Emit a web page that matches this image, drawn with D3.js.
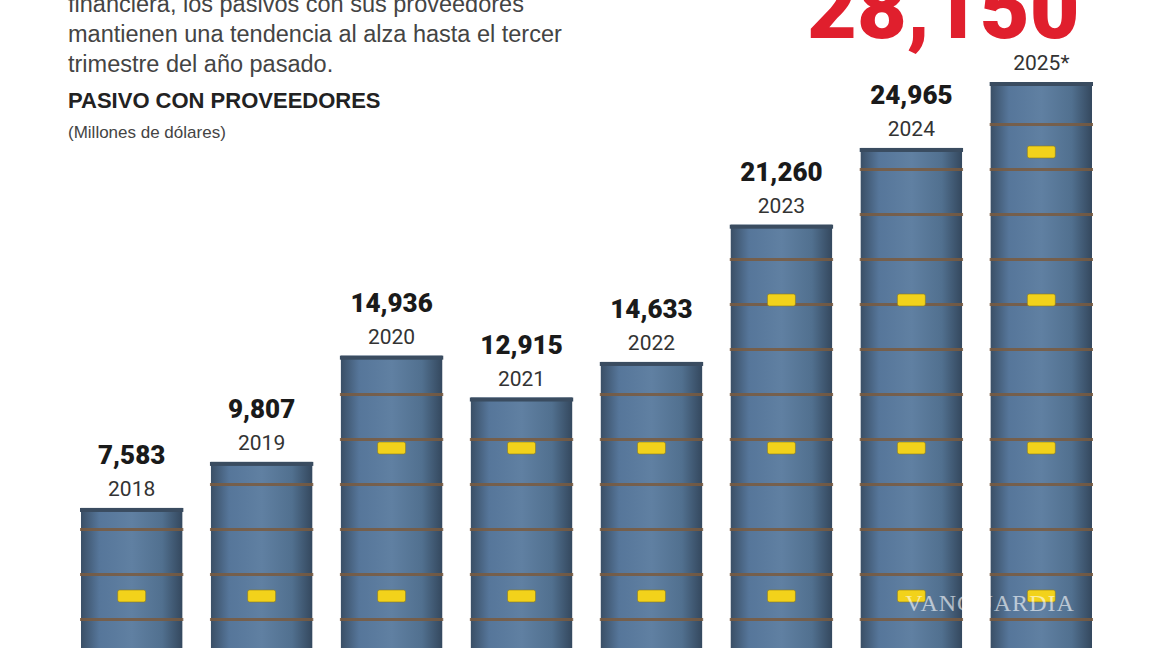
<!DOCTYPE html>
<html><head><meta charset="utf-8">
<script src="https://cdn.jsdelivr.net/npm/d3@7.9.0/dist/d3.min.js"></script>
<style>body{margin:0;background:#fff;overflow:hidden}</style>
</head><body><svg id="c" width="1152" height="648"></svg>
<script>
const years = ['2018', '2019', '2020', '2021', '2022', '2023', '2024', '2025*'];
const values = [7583, 9807, 14936, 12915, 14633, 21260, 24965, 28150];
const introLines = ['financiera, los pasivos con sus proveedores', 'mantienen una tendencia al alza hasta el tercer', 'trimestre del año pasado.'];

const svg = d3.select('#c');
const narrow = '"Liberation Sans Narrow", "Arial Narrow", "Liberation Sans", sans-serif';

const x = d3.scaleBand().domain(years).range([68, 1105]).paddingInner(0.22).paddingOuter(0.1);
const y = d3.scaleLinear().domain([0, 28150]).range([665, 82]);

// barrel gradient
const defs = svg.append('defs');
const g = defs.append('linearGradient').attr('id', 'drum');
[['0%', '#3a4f66'], ['18%', '#56769a'], ['50%', '#6080a2'], ['80%', '#51708f'], ['100%', '#34485e']]
  .forEach(([o, c]) => g.append('stop').attr('offset', o).attr('stop-color', c));

const bars = svg.selectAll('g.bar').data(years.map((yr, i) => ({ yr, v: values[i] })))
  .join('g').attr('class', 'bar');

bars.append('rect')
  .attr('x', d => x(d.yr)).attr('y', d => y(d.v))
  .attr('width', x.bandwidth()).attr('height', d => 648 - y(d.v) + 10)
  .attr('fill', 'url(#drum)');

// rims, rust rings and yellow labels
bars.each(function(d) {
  const sel = d3.select(this);
  const x0 = x(d.yr), w = x.bandwidth(), top = y(d.v);
  sel.append('rect').attr('x', x0 - 1).attr('y', top).attr('width', w + 2).attr('height', 4).attr('fill', '#3a4c60');
  for (let ry = 648 - 30; ry > top + 20; ry -= 45) {
    sel.append('rect').attr('x', x0 - 1).attr('y', ry).attr('width', w + 2).attr('height', 3)
      .attr('fill', '#7a5a3e').attr('opacity', 0.85);
  }
  for (let ly = 648 - 58; ly > top + 40; ly -= 148) {
    sel.append('rect').attr('x', x0 + w / 2 - 14).attr('y', ly).attr('width', 28).attr('height', 12)
      .attr('rx', 2).attr('fill', '#f2d21b').attr('stroke', '#8a7a20').attr('stroke-width', 0.6);
  }
});

// value + year labels (last one drawn separately in red)
bars.filter((d, i) => i < years.length - 1).append('text')
  .attr('x', d => x(d.yr) + x.bandwidth() / 2).attr('y', d => y(d.v) - 44)
  .attr('text-anchor', 'middle').attr('font-family', 'Roboto, sans-serif').attr('font-weight', 900)
  .attr('font-size', 26).attr('fill', '#1a1a1a').text(d => d3.format(',')(d.v));
bars.append('text')
  .attr('x', d => x(d.yr) + x.bandwidth() / 2).attr('y', d => y(d.v) - 12)
  .attr('text-anchor', 'middle').attr('font-family', 'Roboto, sans-serif')
  .attr('font-size', 21).attr('fill', '#333').text(d => d.yr);

const last = years.length - 1;
svg.append('text')
  .attr('x', x(years[last]) + x.bandwidth() / 2 - 98).attr('y', 38)
  .attr('text-anchor', 'middle').attr('font-family', 'Roboto, sans-serif').attr('font-weight', 900)
  .attr('font-size', 86).attr('fill', '#e01f2d').text(d3.format(',')(values[last]));

// intro text
svg.selectAll('text.intro').data(introLines).join('text').attr('class', 'intro')
  .attr('x', 68).attr('y', (d, i) => 12 + i * 30)
  .attr('font-family', narrow).attr('font-size', 23.5).attr('fill', '#444').text(d => d);
svg.append('text').attr('x', 68).attr('y', 108).attr('font-family', narrow).attr('font-weight', 'bold')
  .attr('font-size', 22).attr('fill', '#222').text('PASIVO CON PROVEEDORES');
svg.append('text').attr('x', 68).attr('y', 138).attr('font-family', narrow)
  .attr('font-size', 17).attr('fill', '#444').text('(Millones de dólares)');

// watermark
svg.append('text').attr('x', 990).attr('y', 611).attr('text-anchor', 'middle')
  .attr('font-family', '"Liberation Serif", serif').attr('font-size', 24).attr('letter-spacing', 1)
  .attr('fill', '#fff').attr('opacity', 0.6).text('VANGUARDIA');
</script></body></html>
